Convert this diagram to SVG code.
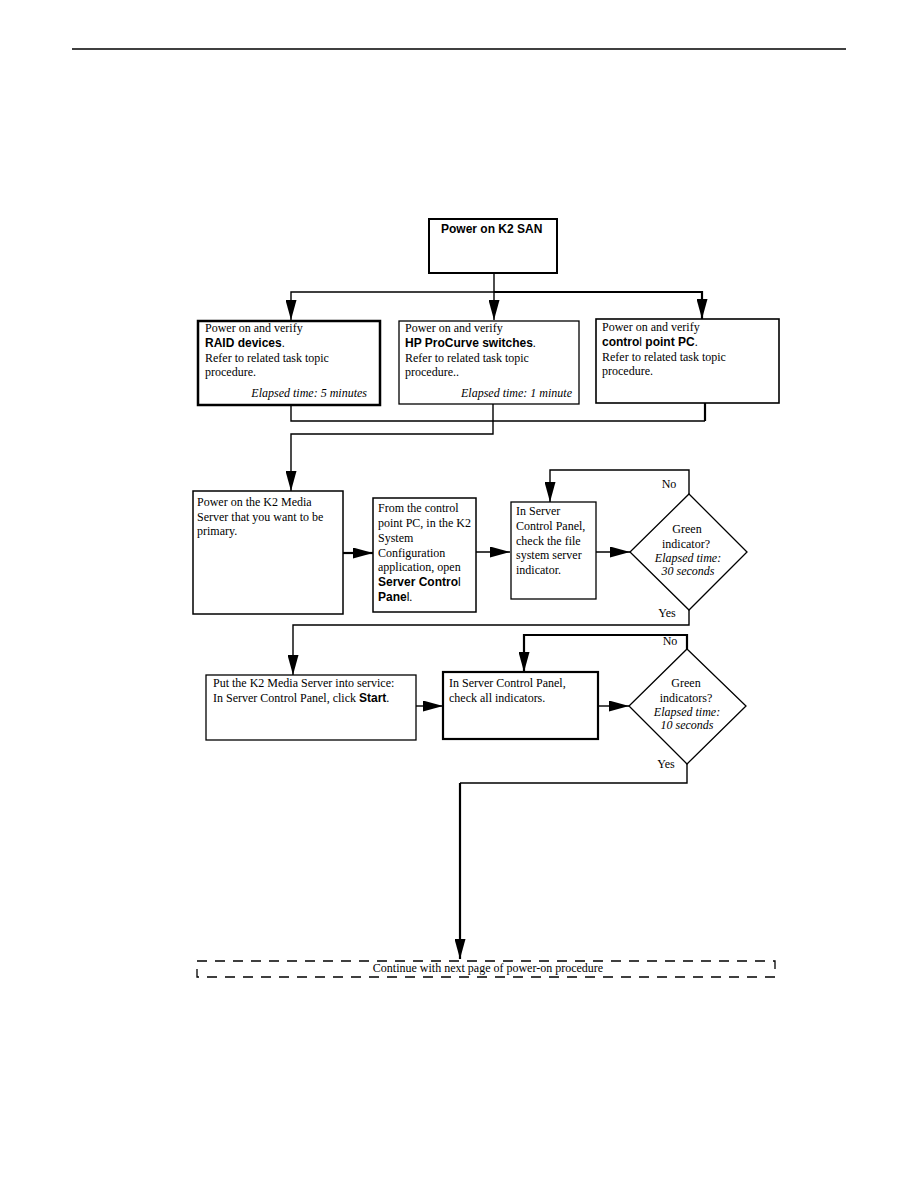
<svg xmlns="http://www.w3.org/2000/svg" width="918" height="1188" viewBox="0 0 918 1188">
<style>
.box{fill:#fff;stroke:#000}
.t{font-family:"Liberation Serif","Times New Roman",serif;font-size:12px;fill:#000}
.i{font-style:italic}
.b{font-family:"Liberation Sans",Arial,sans-serif;font-weight:bold}
.n{font-family:"Liberation Sans",Arial,sans-serif;font-weight:normal}
.c{fill:none;stroke:#000;stroke-width:1.4}
.ck{fill:none;stroke:#000;stroke-width:2.2}
</style>
<defs>
<marker id="ah" markerUnits="userSpaceOnUse" markerWidth="20" markerHeight="11" refX="20" refY="5.5" orient="auto">
<path d="M0,0 L20,5.5 L0,11 z" fill="#000"/>
</marker>
</defs>
<rect width="918" height="1188" fill="#fff"/>
<line x1="72" y1="49" x2="846" y2="49" stroke="#000" stroke-width="1.3"/>

<g id="connectors">
<path class="c" d="M494,273 V292"/>
<path class="c" d="M494,292 H291 V320" marker-end="url(#ah)"/>
<path class="c" d="M494,292 V320" marker-end="url(#ah)"/>
<path class="ck" d="M494,292 H702 V319" marker-end="url(#ah)"/>
<path class="c" d="M291,405 V421 H705"/>
<path class="ck" d="M705,403 V421"/>
<path class="c" d="M493,404 V434 H291 V491" marker-end="url(#ah)"/>
<path class="ck" d="M343,553 H373" marker-end="url(#ah)"/>
<path class="c" d="M476,552 H510" marker-end="url(#ah)"/>
<path class="c" d="M596,552 H630" marker-end="url(#ah)"/>
<path class="c" d="M689,494 V470 H550 V502" marker-end="url(#ah)"/>
<path class="c" d="M689,610 V625 H293 V675" marker-end="url(#ah)"/>
<path class="c" d="M416,706 H443" marker-end="url(#ah)"/>
<path class="c" d="M598,706 H629" marker-end="url(#ah)"/>
<path class="ck" d="M687,649 V635 H524 V672" marker-end="url(#ah)"/>
<path class="c" d="M687,764 V783 H460"/>
<path class="ck" d="M460,783 V959" marker-end="url(#ah)"/>
</g>

<g id="n-k2san">
<rect class="box" x="429" y="219" width="128" height="54" stroke-width="2"/>
<text class="t b" x="441" y="233">Power on K2 SAN</text>
</g>

<g id="n-raid">
<rect class="box" x="198" y="321" width="182" height="84" stroke-width="2.5"/>
<text class="t" x="205" y="332">Power on and verify</text>
<text class="t" x="205" y="347"><tspan class="b">RAID devices</tspan>.</text>
<text class="t" x="205" y="362">Refer to related task topic</text>
<text class="t" x="205" y="376">procedure.</text>
<text class="t i" x="367" y="397" text-anchor="end">Elapsed time: 5 minutes</text>
</g>

<g id="n-hp">
<rect class="box" x="399" y="321" width="180" height="83" stroke-width="1.3"/>
<text class="t" x="405" y="332">Power on and verify</text>
<text class="t" x="405" y="347"><tspan class="b">HP ProCurve switches</tspan>.</text>
<text class="t" x="405" y="362">Refer to related task topic</text>
<text class="t" x="405" y="376">procedure..</text>
<text class="t i" x="572" y="397" text-anchor="end">Elapsed time: 1 minute</text>
</g>

<g id="n-pc">
<rect class="box" x="596" y="319" width="183" height="84" stroke-width="1.6"/>
<text class="t" x="602" y="331">Power on and verify</text>
<text class="t" x="602" y="346"><tspan class="b">contro</tspan><tspan class="n">l</tspan><tspan class="b"> point PC</tspan>.</text>
<text class="t" x="602" y="361">Refer to related task topic</text>
<text class="t" x="602" y="375">procedure.</text>
</g>

<g id="n-media">
<rect class="box" x="193" y="491" width="150" height="123" stroke-width="1.5"/>
<text class="t" x="197" y="506">Power on the K2 Media</text>
<text class="t" x="197" y="521">Server that you want to be</text>
<text class="t" x="197" y="535">primary.</text>
</g>

<g id="n-from">
<rect class="box" x="373" y="498" width="103" height="114" stroke-width="1.5"/>
<text class="t" x="378" y="512">From the control</text>
<text class="t" x="378" y="527">point PC, in the K2</text>
<text class="t" x="378" y="542">System</text>
<text class="t" x="378" y="557">Configuration</text>
<text class="t" x="378" y="571">application, open</text>
<text class="t" x="378" y="586"><tspan class="b">Server Contro</tspan><tspan class="n">l</tspan></text>
<text class="t" x="378" y="601"><tspan class="b">Pane</tspan><tspan class="n">l</tspan>.</text>
</g>

<g id="n-inserver">
<rect class="box" x="511" y="502" width="85" height="97" stroke-width="1.3"/>
<text class="t" x="516" y="515">In Server</text>
<text class="t" x="516" y="530">Control Panel,</text>
<text class="t" x="516" y="545">check the file</text>
<text class="t" x="516" y="559">system server</text>
<text class="t" x="516" y="574">indicator.</text>
</g>

<g id="n-green1">
<polygon points="689,494 747,552 689,610 630,552" fill="#fff" stroke="#000" stroke-width="1.3"/>
<text class="t" x="687" y="533" text-anchor="middle">Green</text>
<text class="t" x="686" y="548" text-anchor="middle">indicator?</text>
<text class="t i" x="688" y="562" text-anchor="middle">Elapsed time:</text>
<text class="t i" x="688" y="575" text-anchor="middle">30 seconds</text>
<text class="t" x="669" y="488" text-anchor="middle">No</text>
<text class="t" x="667" y="617" text-anchor="middle">Yes</text>
</g>

<g id="n-put">
<rect class="box" x="206" y="675" width="210" height="65" stroke-width="1.3"/>
<text class="t" x="213" y="687">Put the K2 Media Server into service:</text>
<text class="t" x="213" y="702">In Server Control Panel, click <tspan class="b">Start</tspan>.</text>
</g>

<g id="n-checkall">
<rect class="box" x="443" y="672" width="155" height="67" stroke-width="2.2"/>
<text class="t" x="449" y="687">In Server Control Panel,</text>
<text class="t" x="449" y="702">check all indicators.</text>
</g>

<g id="n-green2">
<polygon points="687,649 746,706 687,764 629,706" fill="#fff" stroke="#000" stroke-width="1.3"/>
<text class="t" x="686" y="687" text-anchor="middle">Green</text>
<text class="t" x="686" y="702" text-anchor="middle">indicators?</text>
<text class="t i" x="687" y="716" text-anchor="middle">Elapsed time:</text>
<text class="t i" x="687" y="729" text-anchor="middle">10 seconds</text>
<text class="t" x="670" y="645" text-anchor="middle">No</text>
<text class="t" x="666" y="768" text-anchor="middle">Yes</text>
</g>

<g id="n-continue">
<rect x="197" y="961" width="578" height="16" fill="none" stroke="#000" stroke-width="1.3" stroke-dasharray="10,8"/>
<text class="t" x="488" y="972" text-anchor="middle">Continue with next page of power-on procedure</text>
</g>
</svg>
